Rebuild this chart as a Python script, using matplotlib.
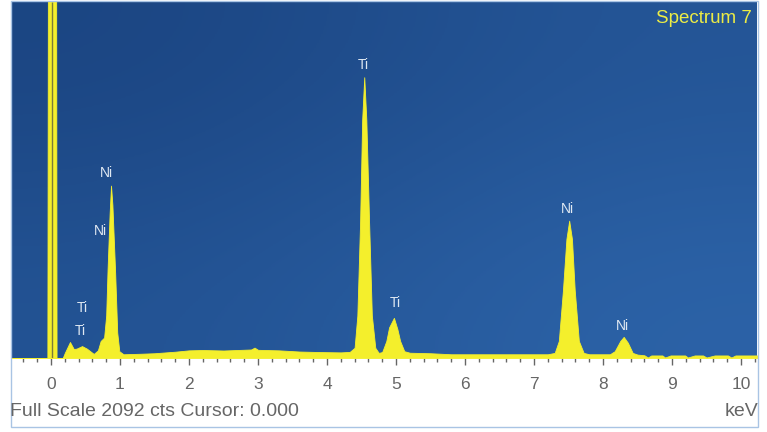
import numpy as np
import matplotlib.pyplot as plt
from matplotlib.colors import LinearSegmentedColormap
from matplotlib.patches import Rectangle

# EDS spectrum (keV, counts)
energy = [-0.57, 0.09, 0.17, 0.20, 0.275, 0.33, 0.37, 0.45, 0.52, 0.62, 0.68,
          0.72, 0.77, 0.80, 0.82, 0.85, 0.87, 0.89, 0.93, 0.96, 0.99, 1.05,
          1.3, 1.5, 1.8, 2.0, 2.2, 2.5, 2.9, 2.95, 3.0, 3.3, 3.6, 3.9, 4.2,
          4.33, 4.40, 4.44, 4.48, 4.51, 4.54, 4.57, 4.61, 4.65, 4.70, 4.75,
          4.80, 4.86, 4.90, 4.97, 5.02, 5.06, 5.12, 5.2, 5.5, 5.8, 6.5, 7.2,
          7.30, 7.36, 7.42, 7.47, 7.51, 7.55, 7.59, 7.65, 7.72, 7.8, 8.1,
          8.17, 8.25, 8.30, 8.36, 8.43, 8.5, 8.6, 8.65,
          8.70, 8.86, 8.90, 8.98, 9.19, 9.23, 9.33, 9.45, 9.50, 9.62, 9.81,
          9.86, 9.92, 10.25]
counts = [0, 0, 0, 30, 94, 53, 55, 70, 55, 24, 45,
          100, 120, 250, 520, 850, 1013, 900, 500, 150, 40, 22,
          25, 28, 37, 45, 47, 44, 50, 61, 48, 45, 38, 35, 33,
          36, 60, 250, 800, 1400, 1650, 1400, 800, 250, 60, 30,
          35, 100, 180, 236, 170, 100, 40, 31, 28, 22, 22, 22,
          30, 100, 400, 700, 807, 700, 400, 100, 30, 22, 22,
          40, 100, 124, 90, 30, 20, 16, 3,
          15, 15, 3, 15, 15, 3, 15, 15, 3, 15, 15,
          3, 15, 15]

zero_e = [-0.045, -0.035, 0.080, 0.088]
zero_c = [0, 3000, 3000, 0]

label_text = ['Ni', 'Ni', 'Ti', 'Ti', 'Ti', 'Ti', 'Ni', 'Ni']
label_e = [0.81, 0.71, 0.45, 0.42, 4.52, 4.99, 7.48, 8.28]
label_c = [1090, 748, 294, 159, 1720, 324, 878, 188]

full_scale = 2092
cursor = 0.000

plt.rcParams['font.family'] = ['Liberation Sans', 'DejaVu Sans']
yellow = '#f4ef2c'
grey = '#666666'

fig = plt.figure(figsize=(7.67, 4.32), dpi=100)
ax = fig.add_axes([12 / 767, 74 / 432, 745 / 767, 356 / 432])
x0, x1 = -0.565, 10.232
ax.set_xlim(x0, x1)
ax.set_ylim(0, full_scale)

cmap = LinearSegmentedColormap.from_list('bg', ['#1b4582', '#2c63a8'])
ax.imshow([[0, 0.55], [0.45, 1]], cmap=cmap, extent=[x0, x1, 0, full_scale],
          aspect='auto', interpolation='bicubic', zorder=0)

ax.fill_between(energy, counts, 0, color=yellow, lw=0.6, zorder=2)
ax.fill_between(zero_e, zero_c, 0, color=yellow, lw=0.6, zorder=2)
ax.vlines(0.018, 0, full_scale, color='#7a7c3a', lw=1.0, zorder=3)

for t, e, c in zip(label_text, label_e, label_c):
    ax.text(e, c, t, color='#dfe8f2', fontsize=10, ha='center', va='center', zorder=4)

ax.text(0.993, 0.978, 'Spectrum 7', color='#ecec45', fontsize=13.5,
        ha='right', va='top', transform=ax.transAxes)

ax.set_xticks(range(0, 11))
ax.set_xticks(np.arange(-0.4, 10.21, 0.2), minor=True)
ax.set_yticks([])
ax.tick_params(axis='x', which='major', direction='out', length=5, width=1,
               color=grey, labelcolor=grey, labelsize=12.5, pad=9)
ax.tick_params(axis='x', which='minor', direction='out', length=3, width=1, color=grey)
for s in ax.spines.values():
    s.set_visible(False)

fig.text(10 / 767, 21 / 432, 'Full Scale %d cts Cursor: %.3f' % (full_scale, cursor),
         color=grey, fontsize=14, ha='left', va='center')
fig.text(758 / 767, 21 / 432, 'keV', color=grey, fontsize=14, ha='right', va='center')

fig.patches.append(Rectangle((11 / 767, 5 / 432), 747 / 767, 426 / 432,
                             transform=fig.transFigure, fill=False,
                             edgecolor='#a9c4e4', lw=1))

fig.savefig('out.png', dpi=100)
